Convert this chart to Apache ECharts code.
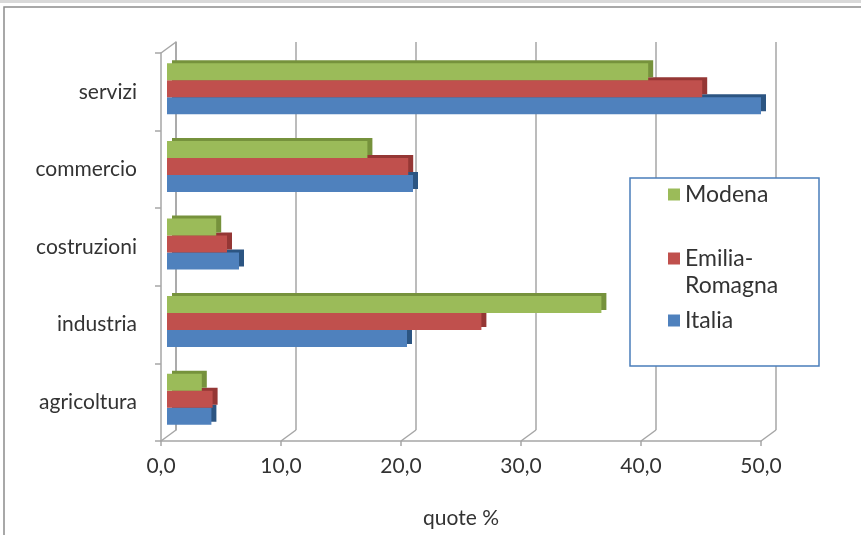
<!DOCTYPE html>
<html>
<head>
<meta charset="utf-8">
<script src="https://cdn.jsdelivr.net/npm/echarts@6/dist/echarts.min.js"></script>
<style>
  html, body { margin: 0; padding: 0; background: #fff; }
  #main { width: 861px; height: 535px; }
</style>
</head>
<body>
<div id="main"></div>
<script>
var chart = echarts.init(document.getElementById('main'));

// dati (dal basso verso l'alto)
var categorie = ['agricoltura', 'industria', 'costruzioni', 'commercio', 'servizi'];
var modena = [2.9, 36.2, 4.1, 16.7, 40.1];
var emilia = [3.8, 26.2, 5.0, 20.1, 44.6];
var italia = [3.7, 20.0, 6.0, 20.5, 49.5];
var xTickLabels = ['0,0', '10,0', '20,0', '30,0', '40,0', '50,0'];

var font = 'Lato';
var txt = '#333333';
var gridCol = '#a6a6a6';

// griglie: fronte (assi), fondo (pareti), barre (a metà profondità)
var front = { left: 161, top: 53, width: 600, height: 388 };
var back = { left: 176, top: 42, width: 600, height: 388 };
var mid = { left: 167, top: 50, width: 600, height: 388 };

var diag = [];
for (var i = 0; i <= 5; i++) {
	diag.push({
		type: 'line', z: 1, silent: true,
		shape: { x1: front.left + 120 * i, y1: front.top + front.height, x2: back.left + 120 * i, y2: back.top + back.height },
		style: { stroke: gridCol, lineWidth: 1.5 }
	});
}
diag.push({
	type: 'line', z: 1, silent: true,
	shape: { x1: front.left, y1: front.top, x2: back.left, y2: back.top },
	style: { stroke: gridCol, lineWidth: 1.5 }
});

function barStyle(c, side) {
	return {
		color: c,
		shadowColor: side,
		shadowBlur: 0,
		shadowOffsetX: 5,
		shadowOffsetY: -3
	};
}

var legendText = { color: txt, fontSize: 23, fontFamily: font, lineHeight: 27 };

var option = {
	animation: false,
	textStyle: { fontFamily: font },
	grid: [
		Object.assign({ containLabel: false }, front),
		Object.assign({ containLabel: false }, back),
		Object.assign({ containLabel: false }, mid)
	],
	xAxis: [
		{
			gridIndex: 0, type: 'value', min: 0, max: 50, interval: 10,
			axisLine: { show: true, lineStyle: { color: gridCol, width: 1.5 } },
			axisTick: { show: true, length: 5, lineStyle: { color: gridCol, width: 1.5 } },
			axisLabel: {
				color: txt, fontSize: 21, fontFamily: font, margin: 15,
				formatter: function (v) { return xTickLabels[Math.round(v / 10)]; }
			},
			splitLine: { show: false },
			name: 'quote %', nameLocation: 'middle', nameGap: 67,
			nameTextStyle: { color: txt, fontSize: 21, fontFamily: font }
		},
		{
			gridIndex: 1, type: 'value', min: 0, max: 50, interval: 10,
			axisLine: { show: false }, axisTick: { show: false }, axisLabel: { show: false },
			splitLine: { show: true, lineStyle: { color: gridCol, width: 1.5 } }
		},
		{
			gridIndex: 2, type: 'value', min: 0, max: 50, show: false
		}
	],
	yAxis: [
		{
			gridIndex: 0, type: 'category', data: categorie,
			axisLine: { show: true, lineStyle: { color: gridCol, width: 1.5 } },
			axisTick: { show: true, length: 6, lineStyle: { color: gridCol, width: 1.5 } },
			axisLabel: { color: txt, fontSize: 21, fontFamily: font, margin: 24 }
		},
		{
			gridIndex: 1, type: 'value', min: 0, max: 1,
			axisLine: { show: true, lineStyle: { color: gridCol, width: 1.5 } },
			axisTick: { show: false }, axisLabel: { show: false }, splitLine: { show: false }
		},
		{
			gridIndex: 2, type: 'category', data: categorie, show: false
		}
	],
	legend: [
		{
			data: ['Modena'], left: 668, top: 181, orient: 'vertical', padding: 0, z: 7,
			itemWidth: 12, itemHeight: 12, icon: 'rect',
			textStyle: legendText
		},
		{
			data: ['Emilia-Romagna'], left: 668, top: 218, orient: 'vertical', padding: 0, z: 7,
			itemWidth: 12, itemHeight: 12, icon: 'rect',
			// riga vuota iniziale: il quadratino resta allineato a "Emilia-"
			formatter: function () { return ' \nEmilia-\nRomagna'; },
			textStyle: legendText
		},
		{
			data: ['Italia'], left: 668, top: 307, orient: 'vertical', padding: 0, z: 7,
			itemWidth: 12, itemHeight: 12, icon: 'rect',
			textStyle: legendText
		}
	],
	graphic: [
		{ type: 'rect', z: 0, silent: true, shape: { x: 0, y: 0, width: 861, height: 3 }, style: { fill: '#d9d9d9' } },
		{ type: 'rect', z: 0, silent: true, shape: { x: 4, y: 7, width: 880, height: 560 }, style: { fill: 'none', stroke: '#8c8c8c', lineWidth: 1.5 } },
		{ type: 'rect', z: 6, silent: true, shape: { x: 630, y: 178, width: 189, height: 188 }, style: { fill: '#fff', stroke: '#4a7ebb', lineWidth: 1.5 } }
	].concat(diag),
	series: [
		{
			name: 'Modena', type: 'bar', xAxisIndex: 2, yAxisIndex: 2, z: 4,
			barWidth: 17, barGap: '0%', data: modena,
			itemStyle: barStyle('#9bbb59', '#76923c')
		},
		{
			name: 'Emilia-Romagna', type: 'bar', xAxisIndex: 2, yAxisIndex: 2, z: 3,
			barWidth: 17, barGap: '0%', data: emilia,
			itemStyle: barStyle('#c0504d', '#953735')
		},
		{
			name: 'Italia', type: 'bar', xAxisIndex: 2, yAxisIndex: 2, z: 2,
			barWidth: 17, barGap: '0%', data: italia,
			itemStyle: barStyle('#4f81bd', '#2c5582')
		}
	]
};
chart.setOption(option);
</script>
</body>
</html>
